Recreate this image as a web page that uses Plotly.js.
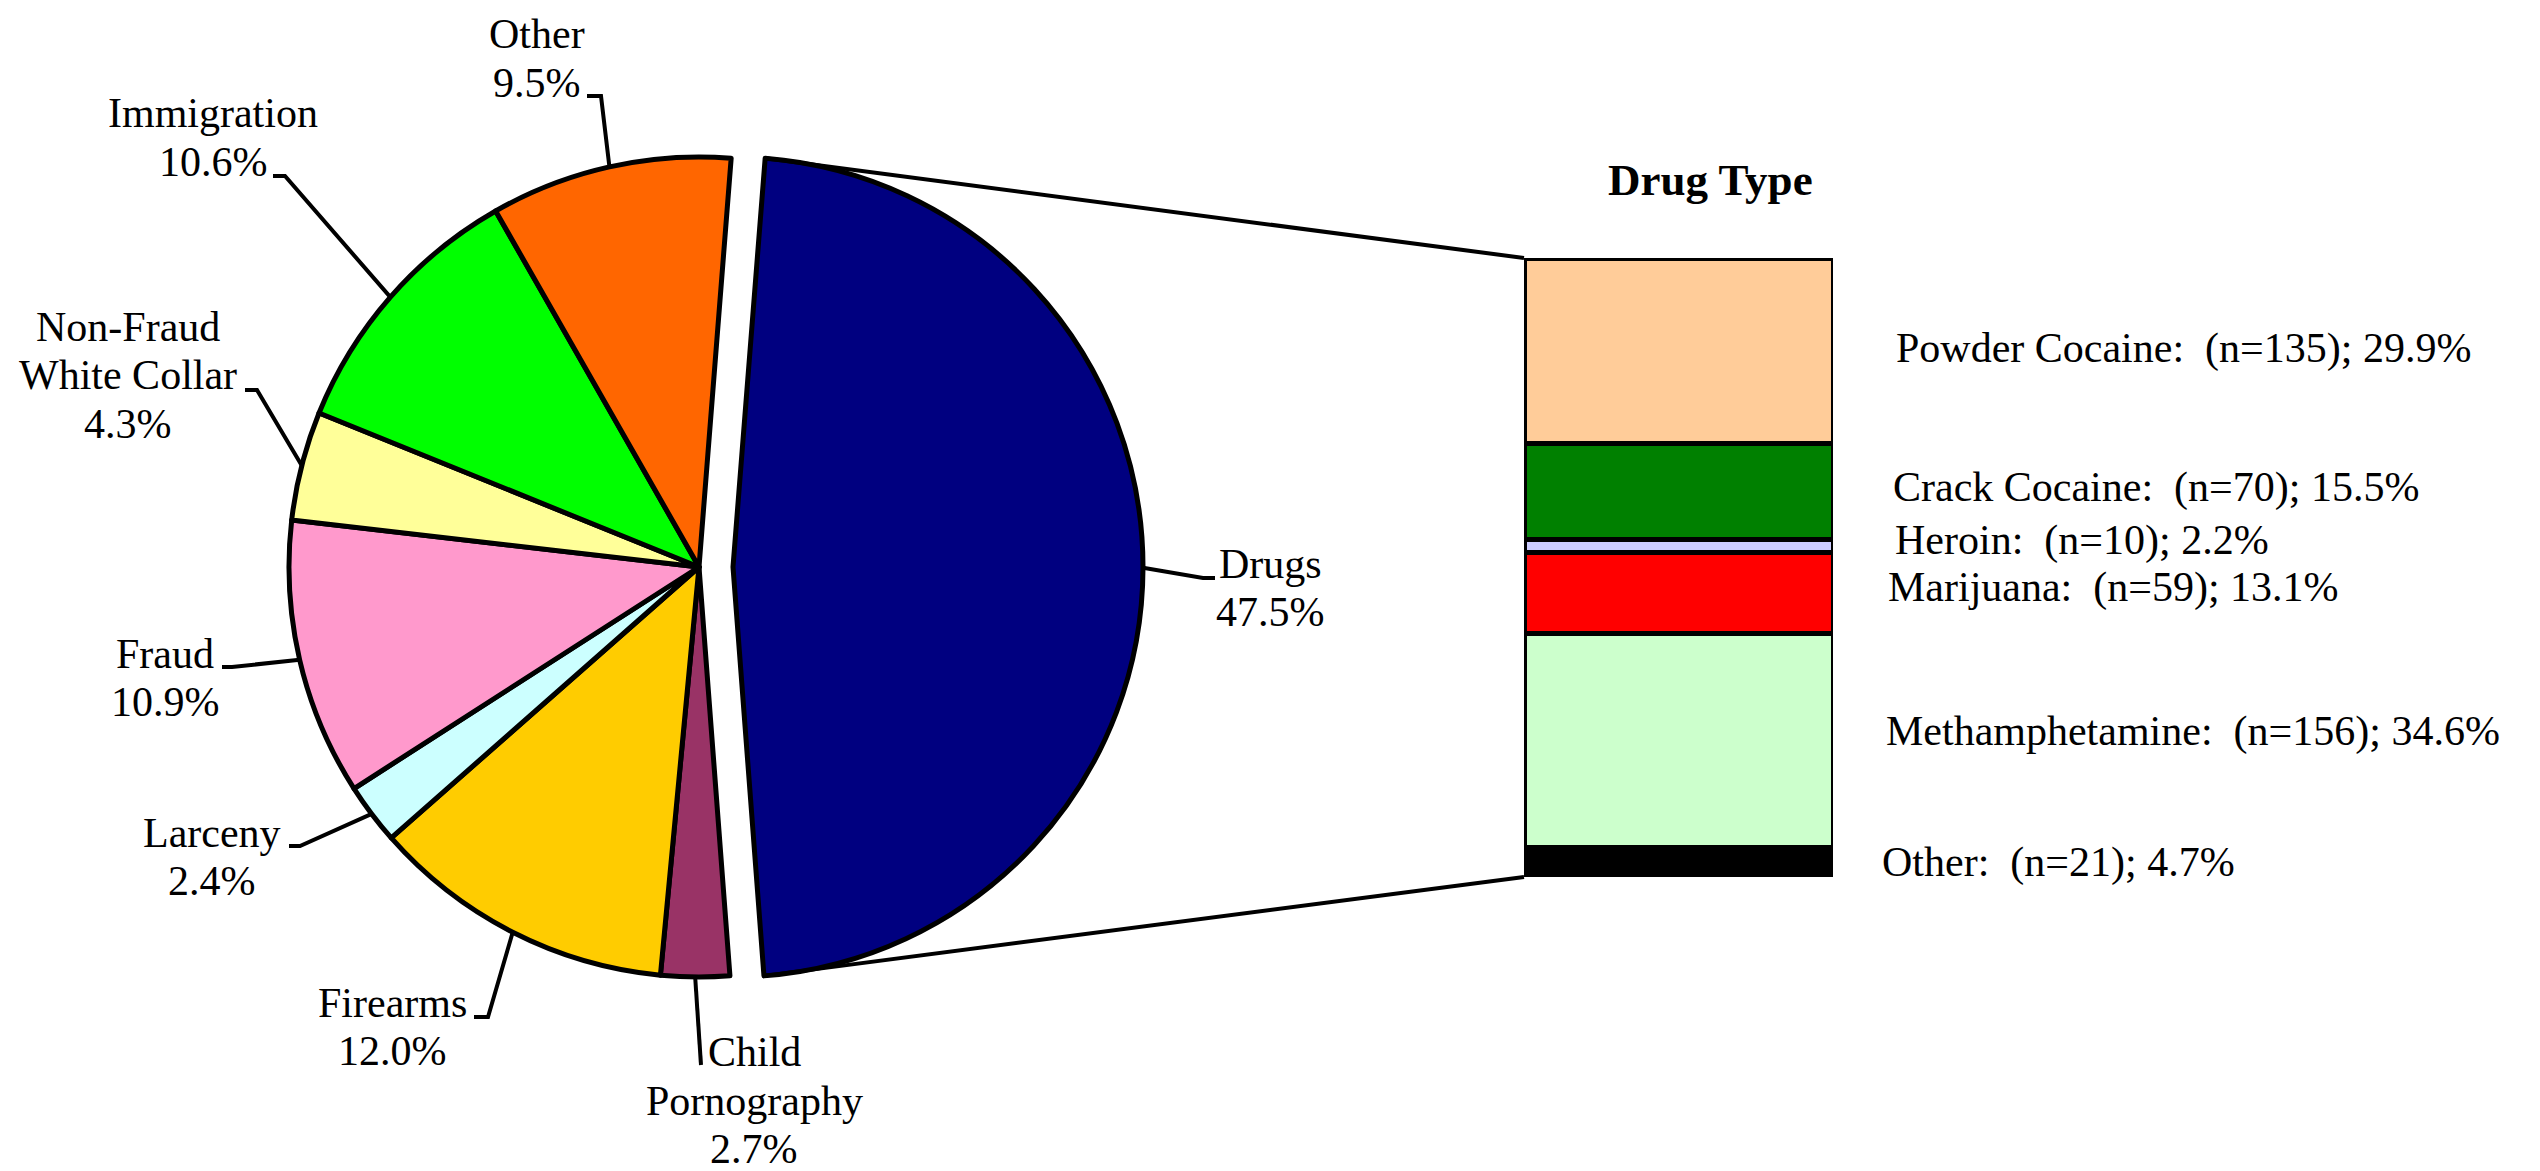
<!DOCTYPE html>
<html><head><meta charset="utf-8">
<script src="https://cdn.plot.ly/plotly-3.0.1.min.js"></script>
<style>html,body{margin:0;padding:0;background:#fff;} #chart{width:2540px;height:1171px;}</style>
</head><body><div id="chart"></div>
<script>
// ---------------- data ----------------
const offenseTypes = ["Drugs", "Child Pornography", "Firearms", "Larceny", "Fraud", "Non-Fraud White Collar", "Immigration", "Other"];
const offensePercents = [47.5, 2.7, 12.0, 2.4, 10.9, 4.3, 10.6, 9.5];

const drugTypes = ["Powder Cocaine", "Crack Cocaine", "Heroin", "Marijuana", "Methamphetamine", "Other"];
const drugCounts = [135, 70, 10, 59, 156, 21];
const drugPercents = [29.9, 15.5, 2.2, 13.1, 34.6, 4.7];

const drugPanelTitle = "Drug Type";

// ---------------- styles / layout ----------------
const offenseColors = ["#000080", "#993366", "#FFCC00", "#CCFFFF", "#FF99CC", "#FFFF99", "#00FF00", "#FF6600"];
const drugColors = ["#FFCC99", "#008000", "#CCCCFF", "#FF0000", "#CCFFCC", "#000000"];

const W = 2540, H = 1171;
const FONT = "Liberation Serif, 'Times New Roman', serif";
const FS = 42;
const TITLE_FS = 45;
const LINE_GAP = 48.5;
const PIE = {cx: 699, cy: 567, r: 410, pullPx: 34, rotation: 4.5};
const BOX = {x0: 1524, x1: 1833, y0: 258, y1: 877};
const labelWrap = {"Non-Fraud White Collar": ["Non-Fraud", "White Collar"], "Child Pornography": ["Child", "Pornography"]};
// label centre x, first baseline, leader: text-side x, elbow x, elbow y
const pieLabelPos = {
  "Drugs":                  {cx: 1270, b: 578,    lx: 1215, ex: 1203, ly: 578},
  "Child Pornography":      {cx: 754,  b: 1066.5, lx: 701,  ex: 701,  ly: 1065},
  "Firearms":               {cx: 392,  b: 1017,   lx: 474,  ex: 488,  ly: 1017},
  "Larceny":                {cx: 212,  b: 847,    lx: 289,  ex: 300,  ly: 846},
  "Fraud":                  {cx: 165,  b: 668,    lx: 222,  ex: 232,  ly: 667},
  "Non-Fraud White Collar": {cx: 128,  b: 341,    lx: 245,  ex: 257,  ly: 390},
  "Immigration":            {cx: 213,  b: 127.5,  lx: 273,  ex: 285,  ly: 176},
  "Other":                  {cx: 537,  b: 48.5,   lx: 587,  ex: 601,  ly: 96}
};
const drugLabelX = [1894, 1891, 1893, 1886, 1884, 1880];
const drugLabelLift = [2, 4, 5, 6, 9, 0];

const px = x => x / W;
const py = y => 1 - y / H;
const midY = (baseline, fs) => baseline - 0.3375 * fs;

// ---------------- pie geometry from data ----------------
const total = offensePercents.reduce((a, b) => a + b, 0);
const pullFrac = PIE.pullPx / PIE.r;
const pulls = offenseTypes.map((_, i) => i === 0 ? pullFrac : 0);
const half = PIE.r * (1 + pullFrac);

let ang = PIE.rotation;
const slices = offensePercents.map((v, i) => {
  const a0 = ang, a1 = ang + 360 * v / total;
  ang = a1;
  const mid = (a0 + a1) / 2 * Math.PI / 180;
  const off = pulls[i] * PIE.r;
  const ox = PIE.cx + off * Math.sin(mid), oy = PIE.cy - off * Math.cos(mid);
  return {a0, a1, mid, ox, oy,
          ex: ox + PIE.r * Math.sin(mid), ey: oy - PIE.r * Math.cos(mid)};
});

const shapes = [];
const annotations = [];

offenseTypes.forEach((name, i) => {
  const p = pieLabelPos[name];
  const s = slices[i];
  const lines = (labelWrap[name] || [name]).concat([offensePercents[i].toFixed(1) + "%"]);
  lines.forEach((t, j) => {
    annotations.push({
      xref: "paper", yref: "paper", x: px(p.cx), y: py(midY(p.b + j * LINE_GAP, FS)),
      xanchor: "center", yanchor: "middle", showarrow: false, text: t,
      font: {family: FONT, size: FS, color: "#000"}
    });
  });
  shapes.push({
    type: "path", xref: "paper", yref: "paper",
    path: `M ${px(p.lx)},${py(p.ly)} L ${px(p.ex)},${py(p.ly)} L ${px(s.ex)},${py(s.ey)}`,
    line: {color: "#000", width: 4}
  });
});

// connector lines from the exploded slice tips to the drug-type bar
const d = slices[0];
const tipTop = [d.ox + PIE.r * Math.sin(d.a0 * Math.PI / 180), d.oy - PIE.r * Math.cos(d.a0 * Math.PI / 180)];
const tipBot = [d.ox + PIE.r * Math.sin(d.a1 * Math.PI / 180), d.oy - PIE.r * Math.cos(d.a1 * Math.PI / 180)];
shapes.push({type: "path", xref: "paper", yref: "paper",
  path: `M ${px(tipTop[0])},${py(tipTop[1])} L ${px(BOX.x0)},${py(BOX.y0)}`, line: {color: "#000", width: 4}});
shapes.push({type: "path", xref: "paper", yref: "paper",
  path: `M ${px(tipBot[0])},${py(tipBot[1])} L ${px(BOX.x0)},${py(BOX.y1)}`, line: {color: "#000", width: 4}});

// ---------------- traces ----------------
const traces = [{
  type: "pie", values: offensePercents, labels: offenseTypes, sort: false,
  direction: "clockwise", rotation: PIE.rotation, pull: pulls,
  marker: {colors: offenseColors, line: {color: "#000", width: 5}},
  textinfo: "none", hoverinfo: "label+percent", showlegend: false,
  domain: {x: [px(PIE.cx - half), px(PIE.cx + half)], y: [py(PIE.cy + half), py(PIE.cy - half)]}
}];

const drugTotal = drugPercents.reduce((a, b) => a + b, 0);
for (let i = drugTypes.length - 1; i >= 0; i--) {
  traces.push({
    type: "bar", x: [0], y: [drugPercents[i]], width: [1], name: drugTypes[i],
    marker: {color: drugColors[i], line: {color: "#000", width: 5}},
    showlegend: false, hoverinfo: "name+y"
  });
}

let cum = 0;
drugTypes.forEach((name, i) => {
  const mid = drugTotal - (cum + drugPercents[i] / 2);
  cum += drugPercents[i];
  annotations.push({
    xref: "paper", yref: "y", x: px(drugLabelX[i]), y: mid, yshift: drugLabelLift[i],
    xanchor: "left", yanchor: "middle", showarrow: false,
    text: `${name}:\u00a0 (n=${drugCounts[i]}); ${drugPercents[i].toFixed(1)}%`,
    font: {family: FONT, size: FS, color: "#000"}
  });
});

annotations.push({
  xref: "paper", yref: "paper", x: px(1710), y: py(midY(195, TITLE_FS)),
  xanchor: "center", yanchor: "middle", showarrow: false,
  text: "<b>" + drugPanelTitle + "</b>",
  font: {family: FONT, size: TITLE_FS, color: "#000"}
});

const layout = {
  width: W, height: H, margin: {l: 0, r: 0, t: 0, b: 0},
  paper_bgcolor: "#fff", plot_bgcolor: "rgba(0,0,0,0)",
  barmode: "stack", bargap: 0, showlegend: false,
  xaxis: {domain: [px(BOX.x0), px(BOX.x1)], range: [-0.5, 0.5], visible: false, fixedrange: true},
  yaxis: {domain: [py(BOX.y1), py(BOX.y0)], range: [0, drugTotal], visible: false, fixedrange: true},
  shapes: shapes, annotations: annotations
};

Plotly.newPlot("chart", traces, layout, {displayModeBar: false, staticPlot: true});
</script></body></html>
